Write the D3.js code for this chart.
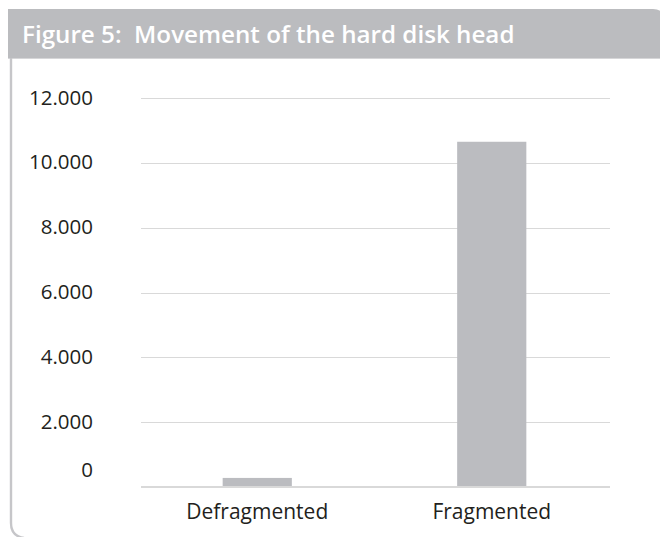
<!DOCTYPE html>
<html>
<head>
<meta charset="utf-8">
<script src="https://cdn.jsdelivr.net/npm/d3@7/dist/d3.min.js"></script>
<style>
  html, body { margin: 0; padding: 0; background: #fff; }
  svg { display: block; }
</style>
</head>
<body>
<svg id="chart" width="660" height="537"></svg>
<script>
// Head movement counts per disk state
const categories = ["Defragmented", "Fragmented"];
const movements = [280, 10650];
const tickValues = [0, 2000, 4000, 6000, 8000, 10000, 12000];
const titleText = "Figure 5:\u00a0\u00a0Movement of the hard disk head";

const W = 660, H = 537;
const svg = d3.select("#chart");
const font = "'Open Sans', Lato, 'DejaVu Sans', sans-serif";

// Frame: grey header band with a rounded top-right corner
const hx = 8, hy = 9, hb = 58, r = 11;
svg.append("path")
  .attr("d", `M${hx},${hy} H${W - r + 4} Q${W + 4},${hy} ${W + 4},${hy + r} V${hb} H${hx} Z`)
  .attr("fill", "#bbbcbf");
svg.append("line")
  .attr("x1", hx).attr("x2", W).attr("y1", hb + 0.5).attr("y2", hb + 0.5)
  .attr("stroke", "#d6d6d8").attr("stroke-width", 1);

// Left border with a rounded bottom-left corner
svg.append("path")
  .attr("d", `M11,${hb} V${H - 14} Q11,${H - 1} 24,${H + 1}`)
  .attr("fill", "none")
  .attr("stroke", "#c6c6c9")
  .attr("stroke-width", 2.4);

svg.append("text")
  .attr("x", 22).attr("y", 43)
  .attr("fill", "#ffffff")
  .attr("font-family", font)
  .attr("font-weight", 600)
  .attr("font-size", 24.2)
  .text(titleText);

// Scales
const x = d3.scaleBand()
  .domain(categories)
  .range([140, 609])
  .paddingInner(0.705)
  .paddingOuter(0.3525);

const y = d3.scaleLinear()
  .domain([0, 12000])
  .range([487, 98]);

const fmt = d3.formatLocale({ decimal: ",", thousands: ".", grouping: [3], currency: ["", ""] }).format(",d");

// Horizontal gridlines
svg.append("g")
  .selectAll("line")
  .data(tickValues.filter(d => d > 0))
  .join("line")
  .attr("x1", 141).attr("x2", 610)
  .attr("y1", d => Math.round(y(d)) + 0.5)
  .attr("y2", d => Math.round(y(d)) + 0.5)
  .attr("stroke", "#d9d9d9")
  .attr("stroke-width", 1);

// Y-axis labels
const yAxis = d3.axisLeft(y).tickValues(tickValues).tickFormat(fmt).tickSize(0).tickPadding(0);
const gy = svg.append("g").attr("transform", "translate(93,0)").call(yAxis);
gy.select(".domain").remove();
gy.selectAll(".tick text")
  .attr("font-family", font)
  .attr("font-size", 20.5)
  .attr("fill", "#231f20")
  .attr("dy", d => d === 0 ? "-0.5em" : "0.3em");

// Bars
svg.append("g")
  .selectAll("rect")
  .data(categories.map((c, i) => ({ c, v: movements[i] })))
  .join("rect")
  .attr("x", d => x(d.c))
  .attr("width", x.bandwidth())
  .attr("y", d => y(d.v))
  .attr("height", d => y(0) - y(d.v))
  .attr("fill", "#bbbcc0");

// Baseline
svg.append("line")
  .attr("x1", 141).attr("x2", 610)
  .attr("y1", y(0)).attr("y2", y(0))
  .attr("stroke", "#d9d9d9")
  .attr("stroke-width", 2);

// Category labels
const xAxis = d3.axisBottom(x).tickSize(0).tickPadding(0);
const gx = svg.append("g").attr("transform", "translate(0,519)").call(xAxis);
gx.select(".domain").remove();
gx.selectAll(".tick text")
  .attr("dy", 0)
  .attr("font-family", font)
  .attr("font-size", 21)
  .attr("fill", "#231f20");
</script>
</body>
</html>
